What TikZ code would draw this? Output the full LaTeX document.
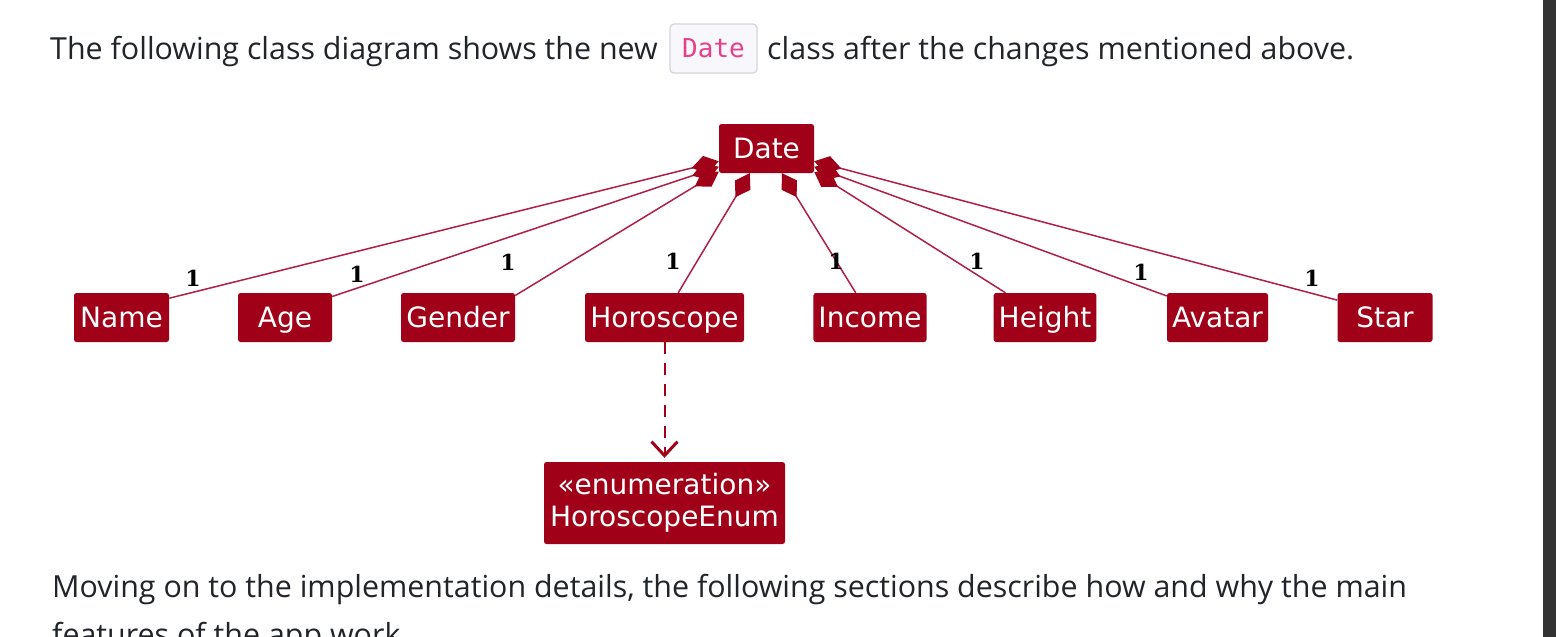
\documentclass[tikz,border=0pt]{standalone}
\usepackage{fontspec}
\setmainfont{Open Sans}
\setmonofont{DejaVu Sans Mono}
\newfontfamily\umlfont{DejaVu Sans}
\newfontfamily\multfont{DejaVu Serif}
\usetikzlibrary{arrows.meta}

\definecolor{umlred}{HTML}{A00018}
\definecolor{umlline}{HTML}{B02046}
\definecolor{bodytext}{HTML}{212529}
\definecolor{codepink}{HTML}{E83E8C}
\definecolor{codebg}{HTML}{F8F8FC}
\definecolor{codeborder}{HTML}{D4D4DC}
\definecolor{scrollbar}{HTML}{333333}

\tikzset{
  cls/.style={fill=umlred, text=white, rounded corners=2.5pt, minimum height=49pt,
    inner xsep=5pt, text height=23pt, text depth=4pt,
    font=\umlfont\fontsize{28}{32}\selectfont},
  enumcls/.style={fill=umlred, text=white, rounded corners=2.5pt, minimum height=82pt,
    align=center, font=\umlfont\fontsize{28}{32}\selectfont},
  mult/.style={inner sep=0pt, text=black, font=\multfont\bfseries\fontsize{22}{24}\selectfont},
  compose/.style={draw=umlline, line width=1.5pt,
    {Diamond[length=28pt, width=18pt, color=umlred]}-},
  depends/.style={draw=umlred, line width=2pt, dash pattern=on 12pt off 9pt,
    -{Straight Barb[length=14pt, width=26pt, line width=3pt]}, shorten >=4pt},
  body/.style={inner sep=0pt, anchor=base west, text=bodytext, font=\fontsize{30.4}{45}\selectfont},
  code/.style={draw=codeborder, fill=codebg, line width=1.2pt, rounded corners=4pt,
    minimum width=87pt, minimum height=49pt, inner sep=0pt, text=codepink,
    font=\ttfamily\fontsize{26}{30}\selectfont}
}

\begin{document}
\begin{tikzpicture}[x=1pt, y=-1pt]
    \useasboundingbox (0,0) rectangle (1556,637);
    \clip (0,0) rectangle (1556,637);
    \fill[white] (0,0) rectangle (1556,637);
    \fill[scrollbar] (1543,0) rectangle (1556,637);

    % text above the diagram
    \node[code] (code) at (713.5,48.5) {Date};
    \node[body, anchor=base east] (intro) at (658,59) {The following class diagram shows the new};
    \node[body] (outro) at (767,59) {class after the changes mentioned above.};

    % classes
    \node[cls, minimum width=95pt] (Date) at (766.5,148.5) {Date};
    \node[cls, minimum width=95pt] (Name) at (121.5,317.5) {Name};
    \node[cls, minimum width=94pt] (Age) at (285,317.5) {Age};
    \node[cls, minimum width=114pt] (Gender) at (458,317.5) {Gender};
    \node[cls, minimum width=159pt] (Horoscope) at (664.5,317.5) {Horoscope};
    \node[cls, minimum width=112pt] (Income) at (870,317.5) {Income};
    \node[cls, minimum width=100pt] (Height) at (1045,317.5) {Height};
    \node[cls, minimum width=101pt] (Avatar) at (1217.5,317.5) {Avatar};
    \node[cls, minimum width=95pt] (Star) at (1385,317.5) {Star};
    \node[enumcls, minimum width=241pt] (HoroscopeEnum) at (664.5,503) {«enumeration»\\HoroscopeEnum};

    % compositions
    \draw[compose] (Date.195) -- (Name.22);
    \draw[compose] (Date.201) -- (Age.24);
    \draw[compose] (Date.206) -- (Gender.21);
    \draw[compose] (Date.236) -- (Horoscope.61);
    \draw[compose] (Date.302) -- (Income.120);
    \draw[compose] (Date.334) -- (Height.148);
    \draw[compose] (Date.339) -- (Avatar.157);
    \draw[compose] (Date.345) -- (Star.160);
    \draw[depends] (Horoscope.south) -- (HoroscopeEnum.north);

    % multiplicities
    \node[mult] (mName) at (193,278) {1};
    \node[mult] (mAge) at (357,274) {1};
    \node[mult] (mGender) at (508,262) {1};
    \node[mult] (mHoroscope) at (673,261) {1};
    \node[mult] (mIncome) at (836,261) {1};
    \node[mult] (mHeight) at (977,261) {1};
    \node[mult] (mAvatar) at (1141,272) {1};
    \node[mult] (mStar) at (1312,278) {1};

    % text below the diagram
    \node[body] (next) at (52,597) {Moving on to the implementation details, the following sections describe how and why the main};
    \node[body] (nextline) at (52,645) {features of the app work};
\end{tikzpicture}
\end{document}
